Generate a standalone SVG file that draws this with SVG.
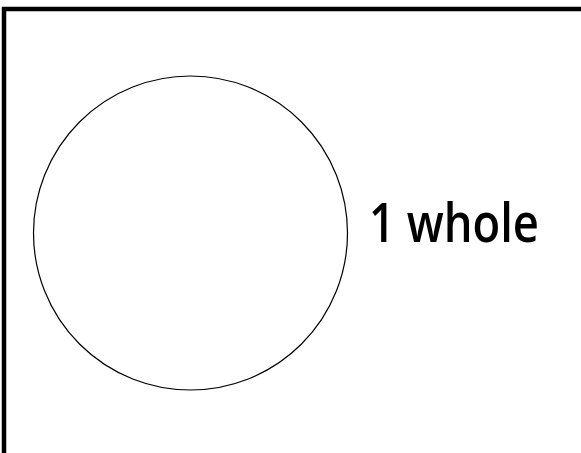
<svg xmlns="http://www.w3.org/2000/svg" width="581" height="453" viewBox="0 0 581 453">
<style>
.frame{fill:none;stroke:#000;stroke-width:4.5}
.shape{fill:#fff;stroke:#000;stroke-width:1.2}
.label{font-family:"Open Sans","DejaVu Sans",sans-serif;font-weight:600;font-size:55px;fill:#000}
</style>
<rect width="581" height="453" fill="#fff"/>
<rect class="frame" x="4" y="9" width="600" height="480"/>
<g id="circle"><circle class="shape" cx="190.5" cy="233" r="157"/></g>
<g id="label"><text class="label" x="369" y="242" textLength="170" lengthAdjust="spacingAndGlyphs">1 whole</text></g>
</svg>
